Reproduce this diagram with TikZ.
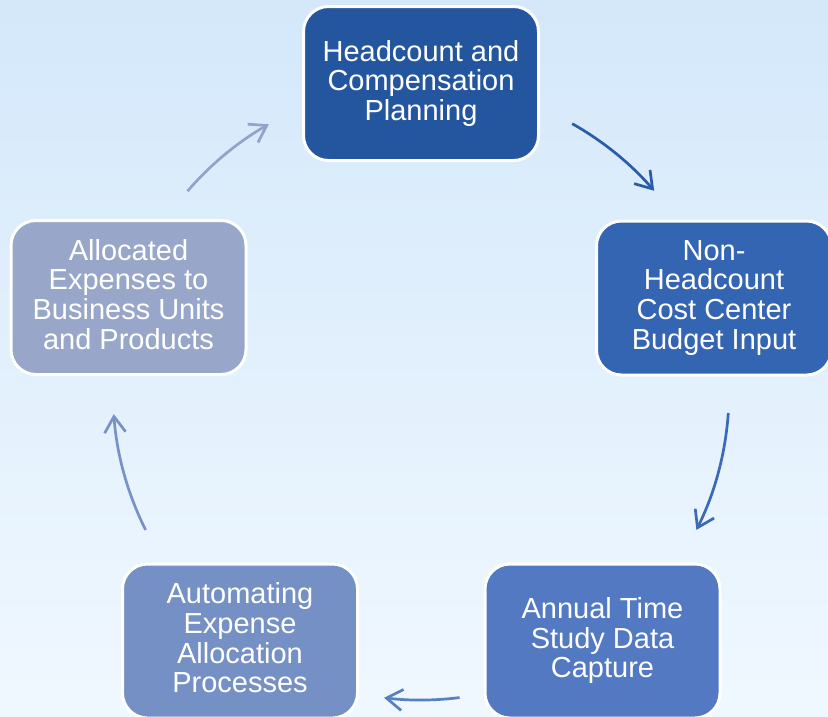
\documentclass[tikz,border=0pt]{standalone}
\usepackage{fontspec}
\setmainfont{Liberation Sans}
\usetikzlibrary{arrows.meta}
\definecolor{bgtop}{RGB}{212,232,250}
\definecolor{bgbot}{RGB}{240,248,255}
\definecolor{cA}{RGB}{36,86,159}
\definecolor{cB}{RGB}{52,101,178}
\definecolor{cC}{RGB}{82,121,194}
\definecolor{cD}{RGB}{117,144,196}
\definecolor{cE}{RGB}{152,166,201}
\definecolor{aA}{RGB}{42,92,168}
\definecolor{aB}{RGB}{58,106,183}
\definecolor{aC}{RGB}{88,126,196}
\definecolor{aD}{RGB}{120,146,198}
\definecolor{aE}{RGB}{146,162,202}
\tikzset{
  stepbox/.style={rectangle, rounded corners=25pt, draw=white, line width=3pt,
    minimum width=235pt, minimum height=154pt, inner sep=0pt,
    text=white, align=center, font=\fontsize{29}{29.6}\selectfont,
    execute at begin node={\rule{0pt}{23pt}},
    execute at end node={\rule[-6.6pt]{0pt}{6.6pt}}},
  cyclearrow/.style={line width=2.7pt,
    -{Straight Barb[length=16pt,width=21pt,line width=2.7pt]}}
}
\begin{document}
\begin{tikzpicture}[x=1pt,y=1pt]
\useasboundingbox (0,0) rectangle (828,-716);
\clip (0,0) rectangle (828,-716);
\shade[top color=bgtop, bottom color=bgbot] (0,0) rectangle (828,-716);

\node[stepbox, fill=cA] (n1) at (421,-83.5) {Headcount and\\Compensation\\Planning};
\node[stepbox, fill=cB] (n2) at (714,-298) {Non-\\Headcount\\Cost Center\\Budget Input};
\node[stepbox, fill=cC] (n3) at (602.5,-641) {Annual Time\\Study Data\\Capture};
\node[stepbox, fill=cD] (n4) at (240,-641) {Automating\\Expense\\Allocation\\Processes};
\node[stepbox, fill=cE] (n5) at (128.5,-297.5) {Allocated\\Expenses to\\Business Units\\and Products};

\coordinate (O) at (421,-392);
\path (O) ++(60.6:308) coordinate (s1);
\path (O) ++(-3.9:308) coordinate (s2);
\path (O) ++(-82.8:308) coordinate (s3);
\path (O) ++(206.6:308) coordinate (s4);
\path (O) ++(139.3:308) coordinate (s5);

\draw[cyclearrow, aA] (s1) arc[start angle=60.6, end angle=40.8, radius=308];
\draw[cyclearrow, aB] (s2) arc[start angle=-3.9, end angle=-26.6, radius=308];
\draw[cyclearrow, aC] (s3) arc[start angle=-82.8, end angle=-96.9, radius=308];
\draw[cyclearrow, aD] (s4) arc[start angle=206.6, end angle=184.1, radius=308];
\draw[cyclearrow, aE] (s5) arc[start angle=139.3, end angle=119.6, radius=308];
\end{tikzpicture}
\end{document}
